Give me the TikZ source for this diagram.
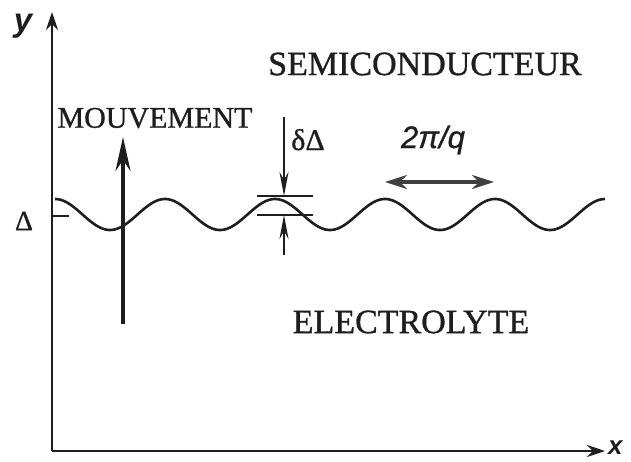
\documentclass[tikz,border=0pt]{standalone}
\usepackage{fontspec}
\setmainfont{Liberation Serif}
\newfontfamily\serifmed[FakeBold=0.9]{Liberation Serif}
\newfontfamily\sansf{Liberation Sans}
\newfontfamily\sansmed[FakeBold=0.9]{Liberation Sans}
\usetikzlibrary{arrows.meta}
\definecolor{ink}{HTML}{1E1E1E}
\tikzset{
  axisline/.style={ink, line width=2.6pt, -{Stealth[length=18pt,width=12pt]}},
  wave/.style={ink, line width=2.6pt},
  thinarrow/.style={ink, line width=1.8pt, -{Stealth[length=24pt,width=9pt]}},
  bigarrow/.style={ink, line width=4pt, -{Stealth[length=34pt,width=15pt]}},
  dblarrow/.style={ink!85, line width=3.2pt, {Stealth[length=22pt,width=14pt]}-{Stealth[length=22pt,width=14pt]}},
  level/.style={ink, line width=1.8pt},
  bigtext/.style={inner sep=0pt, font=\serifmed\fontsize{34}{40}\selectfont, text=ink},
  midtext/.style={inner sep=0pt, font=\serifmed\fontsize{30}{36}\selectfont, text=ink},
  axtext/.style={inner sep=0pt, font=\sansf\bfseries\itshape\fontsize{33}{40}\selectfont, text=ink},
}
\begin{document}
\begin{tikzpicture}[x=1pt,y=-1pt]
\useasboundingbox (0,0) rectangle (631,461);
% axes
\coordinate (O) at (52,451);
\coordinate (Ytip) at (52,12);
\coordinate (Xtip) at (605,451);
\draw[axisline] (O) -- (Ytip);
\draw[axisline] (O) -- (Xtip);
\node[axtext, anchor=base] (ylab) at (23,31) {y};
\node[axtext, font=\sansf\bfseries\itshape\fontsize{26}{30}\selectfont, anchor=base west] (xlab) at (608,454) {x};
% wave
\draw[wave] plot[domain=55:605,samples=300] (\x,{214.5-15.5*cos(3.272727*(\x-55))});
% Delta tick
\coordinate (T1) at (52,216);
\coordinate (T2) at (69,216);
\draw[level] (T1) -- (T2);
\node[inner sep=0pt, font=\serifmed\fontsize{28}{34}\selectfont, text=ink] (delta) at (24,221) {Δ};
% MOUVEMENT
\coordinate (M1) at (123,324);
\coordinate (M2) at (123,137);
\draw[bigarrow] (M1) -- (M2);
\node[midtext] (mouv) at (155,118) {MOUVEMENT};
% delta Delta
\coordinate (L1a) at (257,196);
\coordinate (L1b) at (313,196);
\coordinate (L2a) at (257,215);
\coordinate (L2b) at (313,215);
\draw[level] (L1a) -- (L1b);
\draw[level] (L2a) -- (L2b);
\coordinate (A1) at (284,117);
\coordinate (A1t) at (284,196);
\coordinate (A2) at (284,255);
\coordinate (A2t) at (284,215);
\draw[thinarrow] (A1) -- (A1t);
\draw[thinarrow] (A2) -- (A2t);
\node[midtext, anchor=base] (dd) at (308,150) {δΔ};
% wavelength
\coordinate (W1) at (385,182);
\coordinate (W2) at (494,182);
\draw[dblarrow] (W1) -- (W2);
\node[inner sep=0pt, anchor=base, font=\sansmed\itshape\fontsize{31}{36}\selectfont, text=ink] (wl) at (433,148) {2π/q};
% labels
\node[bigtext] (semi) at (425,64) {SEMICONDUCTEUR};
\node[bigtext] (elec) at (411,322) {ELECTROLYTE};
\end{tikzpicture}
\end{document}
